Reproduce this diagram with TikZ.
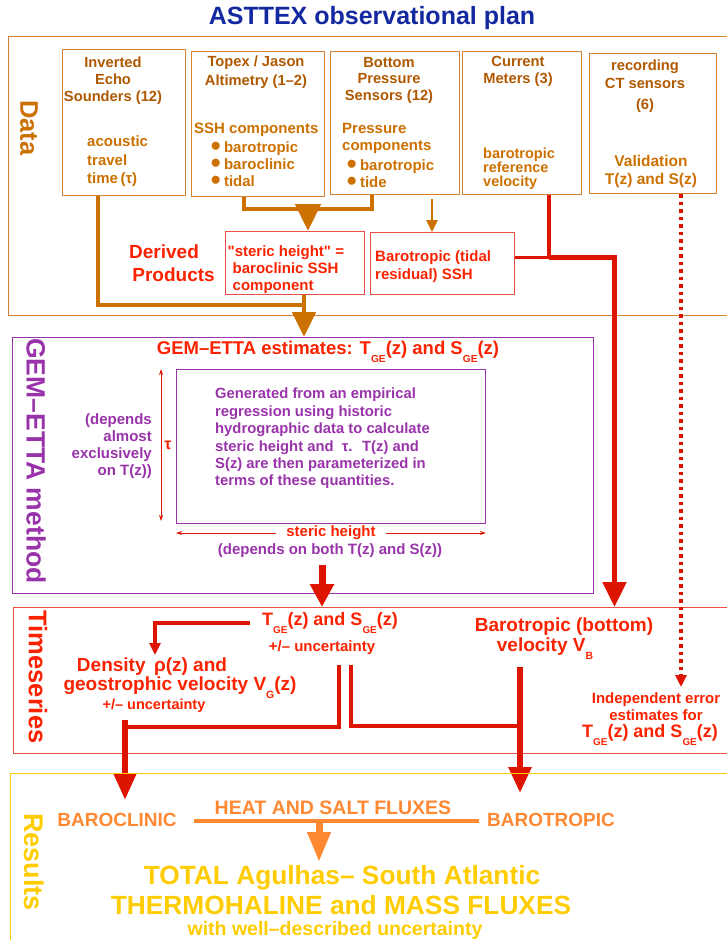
\documentclass[tikz,border=0pt]{standalone}
\usepackage{fontspec}
\setmainfont{Liberation Sans}
\newfontfamily\qfont{Liberation Sans}
\usetikzlibrary{arrows.meta}
\definecolor{cTitle}{RGB}{20,40,160}
\definecolor{cDhead}{RGB}{176,88,0}
\definecolor{cDsub}{RGB}{204,112,0}
\definecolor{cDframe}{RGB}{214,130,50}
\definecolor{cBrown}{RGB}{204,112,0}
\definecolor{cRedL}{RGB}{221,20,0}
\definecolor{cRedT}{RGB}{250,34,0}
\definecolor{cRedF}{RGB}{232,80,70}
\definecolor{cPurp}{RGB}{153,51,170}
\definecolor{cYel}{RGB}{255,204,0}
\definecolor{cOra}{RGB}{255,136,51}
\newcommand\lowsub[1]{\raisebox{-0.42em}{\scalebox{0.55}{#1}}}
\newcommand\fsz[2]{\fontsize{#1}{#2}\selectfont\bfseries}
\newcommand\bul{{\raisebox{0.05em}{\scalebox{1.25}{●}}}\,}
\newcommand\sq{{\qfont\bfseries"}}
\begin{document}
\begin{tikzpicture}[x=1pt,y=-1pt,
  dbox/.style={draw=cDframe,line width=1.3pt,anchor=north west,inner sep=0pt},
  dhead/.style={text=cDhead,font=\fsz{14.7}{17},align=center,inner sep=0pt},
  dsub/.style={text=cDsub,font=\fsz{15}{17},align=left,inner sep=0pt,anchor=west},
  sidelabel/.style={rotate=-90,font=\fsz{25.5}{28},inner sep=0pt},
  brownthick/.style={draw=cBrown,line width=4.5pt},
  brownthin/.style={draw=cBrown,line width=2.5pt},
  redmid/.style={draw=cRedL,line width=3.5pt},
  redthick/.style={draw=cRedL,line width=5.5pt},
  redthin/.style={draw=cRedL,line width=0.8pt},
  bighead/.style={-{Triangle[width=23pt,length=25pt]}},
  midhead/.style={-{Triangle[width=11pt,length=12pt]}},
  redtext/.style={text=cRedT,inner sep=0pt},
  purtext/.style={text=cPurp,inner sep=0pt},
]
\useasboundingbox (0,0) rectangle (727,940);
\clip (0,0) rectangle (727,940);

% title
\node[text=cTitle,font=\fsz{25}{28}] (title) at (372,18) {ASTTEX observational plan};

% ---------------- Data section
\node[dbox,minimum width=740pt,minimum height=279pt] (data) at (8,36) {};
\node[sidelabel,text=cDsub] (ldata) at (29,128) {Data};

\node[dbox,minimum width=122.5pt,minimum height=146pt] (b1) at (62,49) {};
\node[dbox,minimum width=132.5pt,minimum height=145pt] (b2) at (191,51) {};
\node[dbox,minimum width=129.5pt,minimum height=143pt] (b3) at (329.5,51) {};
\node[dbox,minimum width=119pt,minimum height=143pt] (b4) at (462,51) {};
\node[dbox,minimum width=127pt,minimum height=140pt] (b5) at (589,53) {};

\node[dhead] (t1) at (113,80.5) {Inverted\\Echo\\Sounders (12)};
\node[dsub,font=\fsz{15}{18.5}] (s1) at (87,161.5) {acoustic\\travel\\time\,(τ)};

\node[dhead,font=\fsz{14.7}{19}] (t2) at (256,72.5) {Topex / Jason\\Altimetry (1–2)};
\node[dsub] (s2) at (194,130) {SSH components};
\node[dsub] (s2b) at (210,164) {\bul barotropic\\\bul baroclinic\\\bul tidal};

\node[dhead,font=\fsz{14.7}{16.5}] (t3) at (389,80) {Bottom\\Pressure\\Sensors (12)};
\node[dsub] (s3) at (342,138.5) {Pressure\\components};
\node[dsub] (s3b) at (346,173.5) {\bul barotropic\\\bul tide};

\node[dhead] (t4) at (518,71.5) {Current\\Meters (3)};
\node[dsub,font=\fsz{14.5}{13.5}] (s4) at (483,168.5) {barotropic\\reference\\velocity};

\node[dhead,font=\fsz{14.7}{18}] (t5) at (645,86) {recording\\CT sensors\\[3pt](6)};
\node[dhead,text=cDsub,font=\fsz{15.5}{18}] (s5) at (651,171) {Validation\\T(z) and S(z)};

% derived products
\node[text=cRedT,font=\fsz{19}{23},align=left,inner sep=0pt,anchor=west] (derived) at (129,263.5) {Derived\\\,Products};
\node[draw=cRedF,line width=1pt,anchor=north west,minimum width=139pt,minimum height=63pt,inner sep=0pt] (steric) at (225,231) {};
\node[redtext,font=\fsz{15}{17},align=left,anchor=west] (sterict) at (227.5,270) {\sq steric height\sq\ =\\\hspace*{5pt}baroclinic SSH\\\hspace*{5pt}component};
\node[draw=cRedF,line width=1pt,anchor=north west,minimum width=144.5pt,minimum height=62pt,inner sep=0pt] (baro) at (369.5,232) {};
\node[redtext,font=\fsz{15}{18},align=left,anchor=west] (barot) at (375,267) {Barotropic (tidal\\residual) SSH};

% ---------------- GEM-ETTA box
\node[draw=cPurp,line width=1.2pt,anchor=north west,minimum width=581.5pt,minimum height=256pt,inner sep=0pt] (gem) at (11.5,337) {};

% data connectors
\coordinate (j1) at (98,305);
\coordinate (j2) at (304,305);
\coordinate (m23) at (308,209);
\coordinate (p3) at (432,199);
\coordinate (j4) at (549,257.5);
\draw[brownthick] (b1.south -| j1) -- (j1) -- (j2);
\draw[brownthick,bighead] (steric.south -| j2) -- (gem.north -| j2);
\draw[brownthick] (b2.south -| 244,0) |- (372,209) -- (b3.south -| 372,0);
\draw[brownthick,-{Triangle[width=25pt,length=27pt]}] (m23) -- (steric.north -| m23);
\draw[brownthin,midhead] (p3) -- (baro.north -| p3);
\draw[redmid] (baro.east |- j4) -- (j4);
\draw[redmid] (b4.south -| j4) -- (j4);

% ---------------- GEM-ETTA content
\node[sidelabel,text=cPurp,font=\fsz{26.5}{28}] (lgem) at (36,461) {GEM–ETTA method};
\node[redtext,font=\fsz{18.5}{20}] (gemt) at (328,352) {GEM–ETTA estimates: T\lowsub{GE}(z) and S\lowsub{GE}(z)};
\node[draw=cPurp,line width=1pt,anchor=north west,minimum width=309pt,minimum height=154pt,inner sep=0pt] (inner) at (176,369) {};
\node[purtext,font=\fsz{14.8}{17.4},align=left,anchor=west] (innert) at (215,438.5) {Generated from an empirical\\regression using historic\\hydrographic data to calculate\\steric height and \ τ. \ T(z) and\\S(z) are then parameterized in\\terms of these quantities.};
\coordinate (tau1) at (161,369);
\coordinate (tau2) at (161,521);
\draw[redthin,{Stealth[length=6pt,width=4pt]}-{Stealth[length=6pt,width=4pt]}] (tau1) -- (tau2);
\node[redtext,font=\fsz{16}{16}] (taul) at (168,445) {τ};
\node[purtext,font=\fsz{15}{17},align=right,anchor=east] (dep1) at (152,446) {(depends\\almost\\exclusively\\on T(z))};
\coordinate (sh1) at (176,533);
\coordinate (sh2) at (486,533);
\draw[redthin,{Stealth[length=6pt,width=4pt]}-{Stealth[length=6pt,width=4pt]}] (sh1) -- node[fill=white,text=cRedT,font=\fsz{15}{16},inner xsep=10pt,inner ysep=1pt] (shl) {steric height} (sh2);
\node[purtext,font=\fsz{15}{16}] (dep2) at (330,551) {(depends on both T(z) and S(z))};

% ---------------- Timeseries
\node[draw=cRedF,line width=1.2pt,anchor=north west,minimum width=740pt,minimum height=146pt,inner sep=0pt] (ts) at (12.5,607) {};
\node[sidelabel,text=cRedT] (lts) at (38,677) {Timeseries};
\coordinate (g1) at (322,565);
\draw[draw=cRedL,line width=7pt,-{Triangle[width=23pt,length=23pt]}] (g1) -- (ts.north -| g1);
\coordinate (r1) at (614.5,257.5);
\draw[redthick,bighead] (j4) -- (r1) -- (ts.north -| r1);
\coordinate (dt) at (681,687);
\draw[draw=cRedL,line width=3.5pt,dash pattern=on 3.5pt off 4pt,-{Triangle[width=11pt,length=12pt]}] (b5.south -| dt) -- (dt);

\node[redtext,font=\fsz{18}{20}] (tge) at (330,623) {T\lowsub{GE}(z) and S\lowsub{GE}(z)};
\node[redtext,font=\fsz{15}{15}] (tgeu) at (322,648) {+/– uncertainty};
\coordinate (a1) at (250,623);
\coordinate (a2) at (155,655);
\draw[redmid,midhead] (a1) -| (a2);
\node[redtext,font=\fsz{19}{20}] (dens1) at (152,666.5) {Density \,ρ(z) and};
\node[redtext,font=\fsz{19}{20}] (dens2) at (180,687.5) {geostrophic velocity V\lowsub{G}(z)};
\node[redtext,font=\fsz{14.5}{15}] (dens3) at (154,706) {+/– uncertainty};
\node[redtext,font=\fsz{19}{20}] (bt1) at (564,627) {Barotropic (bottom)};
\node[redtext,font=\fsz{19}{20}] (bt2) at (545,648.5) {velocity V\lowsub{B}};
\node[redtext,font=\fsz{15}{15}] (ind1) at (656,700) {Independent error};
\node[redtext,font=\fsz{15}{15}] (ind2) at (656,715) {estimates for};
\node[redtext,font=\fsz{18}{20}] (ind3) at (650,735) {T\lowsub{GE}(z) and S\lowsub{GE}(z)};

\coordinate (v1) at (339,665);
\coordinate (v2) at (351,665);
\coordinate (hl) at (125,727);
\coordinate (hr) at (520,726);
\draw[draw=cRedL,line width=4pt] (v1) |- (hl);
\draw[draw=cRedL,line width=4pt] (v2) |- (hr);
\coordinate (bcl) at (125,720);
\coordinate (bcl2) at (125,800);
\coordinate (btr) at (520,667);
\coordinate (btr2) at (520,793);
\draw[draw=cRedL,line width=6pt,-{Triangle[width=22pt,length=27pt]}] (bcl) -- (bcl2);
\draw[draw=cRedL,line width=6pt,-{Triangle[width=22pt,length=26pt]}] (btr) -- (btr2);

% ---------------- Results
\node[draw=cYel,line width=1.3pt,anchor=north west,minimum width=740pt,minimum height=200pt,inner sep=0pt] (res) at (10,773) {};
\node[sidelabel,text=cYel,font=\fsz{27}{28}] (lres) at (34,862) {Results};
\node[text=cOra,font=\fsz{19}{19},inner sep=0pt] (bcl-t) at (117,820) {BAROCLINIC};
\node[text=cOra,font=\fsz{19}{19},inner sep=0pt] (btr-t) at (551,820) {BAROTROPIC};
\node[text=cOra,font=\fsz{19.5}{19},inner sep=0pt] (hsf) at (333,808) {HEAT AND SALT FLUXES};
\coordinate (o1) at (194,821);
\coordinate (o2) at (479,821);
\coordinate (o3) at (319,821);
\coordinate (o4) at (319,862);
\draw[draw=cOra,line width=4pt] (o1) -- (o2);
\draw[draw=cOra,line width=7pt,-{Triangle[width=22pt,length=30pt]}] (o3) -- (o4);
\node[text=cYel,font=\fsz{26.3}{27},inner sep=0pt] (tot1) at (342,878) {TOTAL Agulhas– South Atlantic};
\node[text=cYel,font=\fsz{26.3}{27},inner sep=0pt] (tot2) at (341,905) {THERMOHALINE and MASS FLUXES};
\node[text=cYel,font=\fsz{19.5}{19},inner sep=0pt] (tot3) at (335,930) {with well–described uncertainty};
\end{tikzpicture}
\end{document}
